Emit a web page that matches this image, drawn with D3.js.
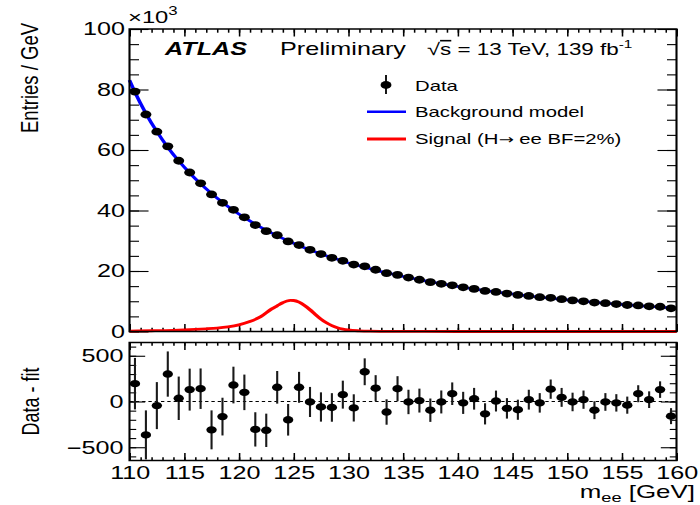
<!DOCTYPE html>
<html>
<head>
<meta charset="utf-8">
<script src="https://cdn.jsdelivr.net/npm/d3@7"></script>
<style>
  html, body { margin: 0; padding: 0; background: #fff; }
  svg { display: block; }
  text { font-family: "Liberation Sans", Arial, Helvetica, sans-serif; fill: #000; }
</style>
</head>
<body>
<svg id="chart" width="700" height="505" viewBox="0 0 500 505" preserveAspectRatio="none"></svg>
<script>
// ---- data -------------------------------------------------------------
// m_ee bin centres [GeV], 1 GeV bins from 110 to 160
const binCenters = [110.5,111.5,112.5,113.5,114.5,115.5,116.5,117.5,118.5,119.5,
  120.5,121.5,122.5,123.5,124.5,125.5,126.5,127.5,128.5,129.5,
  130.5,131.5,132.5,133.5,134.5,135.5,136.5,137.5,138.5,139.5,
  140.5,141.5,142.5,143.5,144.5,145.5,146.5,147.5,148.5,149.5,
  150.5,151.5,152.5,153.5,154.5,155.5,156.5,157.5,158.5,159.5];

// observed entries per GeV, in units of 10^3
const dataEntries = [79.30,71.74,66.06,61.20,56.44,52.56,49.00,45.32,42.53,40.22,
  37.76,35.18,33.18,31.82,29.78,28.58,26.99,25.60,24.36,23.36,
  22.14,21.54,20.42,19.29,18.72,17.82,17.10,16.32,15.77,15.26,
  14.59,14.09,13.42,13.07,12.53,12.08,11.77,11.35,11.12,10.68,
  10.29,9.98,9.56,9.35,9.06,8.76,8.63,8.31,8.18,7.66];

// data minus background fit, entries per GeV
const residuals = [195,-365,-45,300,35,130,140,-310,-165,180,
  100,-305,-315,155,-200,155,-5,-60,-65,75,
  -70,325,145,-115,140,-5,10,-95,-5,85,
  -15,30,-135,5,-75,-90,20,-15,135,45,
  -5,20,-95,-5,-15,-40,85,20,130,-160];

// background model curve (10^3 entries / GeV)
const bkgMass = [110,110.5,111.5,112.5,113.5,114.5,115.5,116.5,117.5,118.5,119.5,
  120.5,121.5,122.5,123.5,124.5,125.5,126.5,127.5,128.5,129.5,
  130.5,131.5,132.5,133.5,134.5,135.5,136.5,137.5,138.5,139.5,
  140.5,141.5,142.5,143.5,144.5,145.5,146.5,147.5,148.5,149.5,
  150.5,151.5,152.5,153.5,154.5,155.5,156.5,157.5,158.5,159.5,160];
const bkgValues = [83.1,79.1,72.1,66.1,60.9,56.4,52.43,48.86,45.63,42.69,40.04,
  37.66,35.48,33.49,31.66,29.98,28.42,26.99,25.66,24.42,23.28,
  22.21,21.21,20.27,19.40,18.58,17.82,17.09,16.41,15.77,15.17,
  14.60,14.06,13.55,13.06,12.60,12.17,11.75,11.36,10.98,10.63,
  10.29,9.96,9.65,9.35,9.07,8.80,8.54,8.29,8.05,7.82,7.71];

// signal shape, H -> ee with BF = 2% (10^3 entries / GeV)
const sigMass = [110,112,114,116,117,118,119,120,121,122,123,123.5,124,124.4,124.7,125,
  125.5,126,126.5,127,127.5,128,128.5,129,129.5,130,131,132,134,137,140,150,160];
const sigValues = [0.15,0.25,0.4,0.7,0.9,1.15,1.55,2.2,3.3,4.9,7.5,8.5,9.5,10.1,10.3,10.25,
  9.7,8.6,7.2,5.6,4.1,2.9,1.95,1.25,0.8,0.5,0.22,0.1,0.03,0.01,0,0,0];

// axis ticks
const xMajorTicks = [110,115,120,125,130,135,140,145,150,155,160];
const xMinorTicks = d3.range(110, 161, 1);
const yTopMajorTicks = [0,20,40,60,80,100];
const yTopMinorTicks = d3.range(0, 101, 5);
const yBotMajorTicks = [-500,0,500];
const yBotMinorTicks = d3.range(-600, 601, 100);

const legendLabels = ["Data", "Background model", "Signal (H"];

// ---- layout -----------------------------------------------------------
// the drawing surface is stretched horizontally by SX
const SX = 1.4;
const sx = v => v / SX;           // screen x -> surface x

const L = sx(129.5), R = sx(676.5);
const T1 = 29, B1 = 331.5;        // upper panel
const T2 = 342.5, B2 = 460.5;     // ratio panel

const svg = d3.select("#chart");

const x = d3.scaleLinear().domain([110, 160]).range([L, R]);
const yTop = d3.scaleLinear().domain([0, 100]).range([B1, T1]);
const yBot = d3.scaleLinear().domain([-645, 645]).range([B2, T2]);

const fontTick = 18;
const markerR = 3.9;

function tickAxis(axis, scale, values, size, labels, pad) {
  const a = axis(scale).tickValues(values).tickSizeInner(-size).tickSizeOuter(0);
  if (labels) a.tickPadding(pad).tickFormat(labels); else a.tickFormat("");
  return g => {
    g.call(a);
    g.select(".domain").remove();
    g.attr("font-size", null).attr("font-family", null);
    g.selectAll(".tick line").attr("stroke", "#000").attr("stroke-width", 1.1);
    g.selectAll(".tick text").attr("font-size", fontTick).attr("fill", "#000");
  };
}

// ---- upper panel axes -------------------------------------------------
const fmt = d3.format("d");
svg.append("g").attr("transform", `translate(0,${B1})`)
  .call(tickAxis(d3.axisBottom, x, xMinorTicks, 3.7));
svg.append("g").attr("transform", `translate(0,${B1})`)
  .call(tickAxis(d3.axisBottom, x, xMajorTicks, 7.5));
svg.append("g").attr("transform", `translate(0,${T1})`)
  .call(tickAxis(d3.axisTop, x, xMinorTicks, 3.7));
svg.append("g").attr("transform", `translate(0,${T1})`)
  .call(tickAxis(d3.axisTop, x, xMajorTicks, 7.5));
svg.append("g").attr("transform", `translate(${L},0)`)
  .call(tickAxis(d3.axisLeft, yTop, yTopMinorTicks, 6.8));
svg.append("g").attr("transform", `translate(${L},0)`)
  .call(tickAxis(d3.axisLeft, yTop, yTopMajorTicks, 13.6, fmt, sx(4.5)));
svg.append("g").attr("transform", `translate(${R},0)`)
  .call(tickAxis(d3.axisRight, yTop, yTopMinorTicks, 6.8));
svg.append("g").attr("transform", `translate(${R},0)`)
  .call(tickAxis(d3.axisRight, yTop, yTopMajorTicks, 13.6));

// ---- ratio panel axes -------------------------------------------------
svg.append("g").attr("transform", `translate(0,${B2})`)
  .call(tickAxis(d3.axisBottom, x, xMinorTicks, 3.2));
svg.append("g").attr("transform", `translate(0,${B2})`)
  .call(tickAxis(d3.axisBottom, x, xMajorTicks, 7.5, fmt, 5.5));
svg.append("g").attr("transform", `translate(0,${T2})`)
  .call(tickAxis(d3.axisTop, x, xMinorTicks, 3.2));
svg.append("g").attr("transform", `translate(0,${T2})`)
  .call(tickAxis(d3.axisTop, x, xMajorTicks, 7.5));
svg.append("g").attr("transform", `translate(${L},0)`)
  .call(tickAxis(d3.axisLeft, yBot, yBotMinorTicks, 4.8));
svg.append("g").attr("transform", `translate(${L},0)`)
  .call(tickAxis(d3.axisLeft, yBot, yBotMajorTicks, 11.2, d3.format("d"), sx(6)));
svg.append("g").attr("transform", `translate(${R},0)`)
  .call(tickAxis(d3.axisRight, yBot, yBotMinorTicks, 4.8));
svg.append("g").attr("transform", `translate(${R},0)`)
  .call(tickAxis(d3.axisRight, yBot, yBotMajorTicks, 11.2));

// ---- upper panel curves and points -----------------------------------
const sigLine = d3.line().x((d, i) => x(sigMass[i])).y(d => yTop(d)).curve(d3.curveMonotoneX);
svg.append("path").attr("d", sigLine(sigValues))
  .attr("fill", "none").attr("stroke", "#ff0000").attr("stroke-width", 2.8);

const bkgLine = d3.line().x((d, i) => x(bkgMass[i])).y(d => yTop(d)).curve(d3.curveMonotoneX);
svg.append("path").attr("d", bkgLine(bkgValues))
  .attr("fill", "none").attr("stroke", "#0000ff").attr("stroke-width", 2.6);

// Poisson uncertainty on each bin
const dataErr = dataEntries.map(v => Math.sqrt(v * 1000));

const gData = svg.append("g");
gData.selectAll("line").data(dataEntries).join("line")
  .attr("x1", (d, i) => x(binCenters[i])).attr("x2", (d, i) => x(binCenters[i]))
  .attr("y1", (d, i) => yTop(d - dataErr[i] / 1000)).attr("y2", (d, i) => yTop(d + dataErr[i] / 1000))
  .attr("stroke", "#000").attr("stroke-width", 1.3);
gData.selectAll("circle").data(dataEntries).join("circle")
  .attr("cx", (d, i) => x(binCenters[i])).attr("cy", d => yTop(d))
  .attr("r", markerR).attr("fill", "#000");

// ---- ratio panel -------------------------------------------------------
svg.append("line")
  .attr("x1", L).attr("x2", R).attr("y1", yBot(0)).attr("y2", yBot(0))
  .attr("stroke", "#000").attr("stroke-width", 0.9).attr("stroke-dasharray", "2.4,2.1");

const gRes = svg.append("g");
gRes.selectAll("line").data(residuals).join("line")
  .attr("x1", (d, i) => x(binCenters[i])).attr("x2", (d, i) => x(binCenters[i]))
  .attr("y1", (d, i) => yBot(d - dataErr[i])).attr("y2", (d, i) => yBot(d + dataErr[i]))
  .attr("stroke", "#1a1a1a").attr("stroke-width", 1.5);
gRes.selectAll("circle").data(residuals).join("circle")
  .attr("cx", (d, i) => x(binCenters[i])).attr("cy", d => yBot(d))
  .attr("r", 3.7).attr("fill", "#000");

// ---- frames ----------------------------------------------------------
[[T1, B1], [T2, B2]].forEach(([t, b]) => {
  svg.append("rect").attr("x", L).attr("y", t).attr("width", R - L).attr("height", b - t)
    .attr("fill", "none").attr("stroke", "#000").attr("stroke-width", 1.5);
});

// ---- texts -----------------------------------------------------------
// exponent of the y axis
const expo = svg.append("text").attr("x", sx(128)).attr("y", 23.5).attr("font-size", 17);
expo.append("tspan").text("\u00d710");
expo.append("tspan").attr("font-size", 12).attr("dy", -8).text("3");

// axis titles
svg.append("text")
  .attr("transform", `translate(${sx(37.5)},23) scale(0.93,1) rotate(-90)`)
  .attr("text-anchor", "end").attr("font-size", 18.5).text("Entries / GeV");
svg.append("text")
  .attr("transform", `translate(${sx(38.5)},${yBot(0)}) scale(0.93,1) rotate(-90)`)
  .attr("text-anchor", "middle").attr("font-size", 18).text("Data - fit");

const xt = svg.append("text").attr("x", sx(695)).attr("y", 498)
  .attr("text-anchor", "end").attr("font-size", 18.5);
xt.append("tspan").text("m");
xt.append("tspan").attr("font-size", 13).attr("dy", 4).text("ee");
xt.append("tspan").attr("dy", -4).text(" [GeV]");

// experiment label
svg.append("text").attr("x", sx(165)).attr("y", 55.5)
  .attr("font-size", 18).attr("font-weight", "bold").attr("font-style", "italic").text("ATLAS");
svg.append("text").attr("x", sx(280)).attr("y", 55.5).attr("font-size", 18).text("Preliminary");
const lumi = svg.append("text").attr("x", sx(427)).attr("y", 55.5).attr("font-size", 16);
lumi.append("tspan").attr("font-size", 17).text("\u221a");
lumi.append("tspan").style("text-decoration", "overline").text("s");
lumi.append("tspan").text(" = 13 TeV, 139 fb");
lumi.append("tspan").attr("font-size", 11).attr("dy", -7).text("-1");

// legend
const legY = [91, 117.5, 144.5];
const legX = sx(415);
legendLabels.forEach((lab, i) => {
  const t = svg.append("text").attr("x", legX).attr("y", legY[i]).attr("font-size", 14.5).text(lab);
  if (i === 2) {
    t.append("tspan").attr("font-family", "DejaVu Sans").attr("font-size", 13).text("\u2192");
    t.append("tspan").text(" ee BF=2%)");
  }
});
svg.append("line").attr("x1", sx(386)).attr("x2", sx(386)).attr("y1", 75).attr("y2", 94)
  .attr("stroke", "#000").attr("stroke-width", 1.3);
svg.append("circle").attr("cx", sx(386)).attr("cy", 85).attr("r", markerR).attr("fill", "#000");
svg.append("line").attr("x1", sx(367)).attr("x2", sx(406)).attr("y1", 111.7).attr("y2", 111.7)
  .attr("stroke", "#0000ff").attr("stroke-width", 2.6);
svg.append("line").attr("x1", sx(367)).attr("x2", sx(406)).attr("y1", 139).attr("y2", 139)
  .attr("stroke", "#ff0000").attr("stroke-width", 2.8);
</script>
</body>
</html>
